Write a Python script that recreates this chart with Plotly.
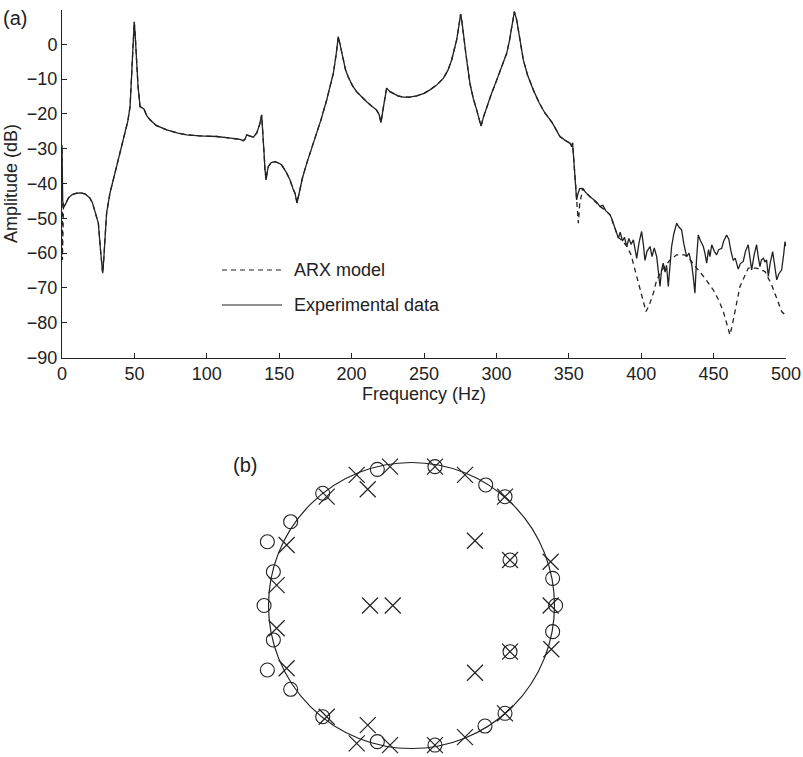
import plotly.graph_objects as go

W, H = 803, 757

# ---------------- (a) frequency response data ----------------
exp_freq = [0, 0.5, 1.2, 2.1, 4.4, 7, 10.1, 13, 15.9, 19.3, 21, 22.8, 25.1, 26.7, 27.6, 28.1, 28.8, 29.7, 30.8, 33.1,
            35.4, 38, 40.5, 43.5, 45.5, 47, 47.8, 48.4, 49.3, 49.9, 50.5, 51.2, 51.6, 52.5, 53.9, 55.5, 56.6, 58.5, 60.8, 65,
            72.3, 80, 86.1, 95, 106.8, 115, 122.9, 125.2, 126.5, 127.5, 129.5, 132.1, 134.5, 136.5, 137.9, 138.6, 139.5, 140.2, 140.9, 141.6,
            142.5, 144.5, 147.1, 150, 151.7, 154.5, 157.5, 159.5, 160.9, 162.3, 163.5, 166, 169, 172, 175.9, 179, 182.8, 185, 187.4, 189.3,
            190.8, 192, 194.1, 195.8, 197.6, 200.5, 203.4, 207, 210.4, 214, 217.3, 219, 220.3, 222, 224.2, 226.5, 228.8, 232,
            235.7, 240, 245, 250, 254.1, 258.5, 263.3, 266.5, 269.1, 271, 272.5, 274, 275.3, 276.2, 277.1, 279, 281.7, 284,
            286.4, 288, 289.4, 291, 293.3, 296.5, 300.2, 303.5, 307.1, 309, 310.6, 312.4, 314, 316, 318.6, 321.5, 325.5, 329.5,
            333.6, 338.5, 343.9, 347.5, 350.8, 352, 352.6, 353.4, 354.3, 355.4, 356.3, 357.5, 359.6, 361.5, 364.6,
            367, 369, 371.5, 373.5, 375.5, 378.5, 380, 381.5, 384.2, 385.5, 387, 388.5, 390, 391.5, 393, 394.6, 395.8, 396.9,
            398.5, 400.3, 401.5, 402.6, 404, 406.1, 407.5, 409, 410.7, 411.5, 413, 414, 415.2, 416.5, 417.5, 418.7, 420, 421,
            422.5, 424.5, 426, 427.9, 429.5, 431.4, 433, 434.9, 436, 437.1, 438.2, 439.4, 441, 442.9, 444, 445.2, 446.5, 447.5,
            448.7, 450.5, 452.1, 453.5, 455.6, 457, 459, 460.5, 462, 463.6, 465, 467, 468.5, 470.5, 472, 473.9, 475, 476.3,
            478, 479.7, 480.8, 482, 483, 484.3, 485.5, 486.6, 487.8, 489, 490.8, 492, 493.6, 495, 497, 498.5, 499.3, 500]
exp_db = [-29, -45, -46.5, -46.2, -44.2, -43.2, -42.8, -42.7, -43, -44.2, -45.5, -48.1, -51.4, -59.6, -64, -65.8, -62, -56.2, -48.5, -42.8,
          -39, -34.5, -30, -25.6, -22, -17.9, -12, -4, 2, 6.5, 3, -2, -4.5, -12, -17.9, -18.4, -18.6, -20.5, -21.7, -23.3,
          -24.6, -25.5, -26, -26.3, -26.5, -26.9, -27.3, -27.7, -27.2, -26.0, -26.3, -26.7, -25.5, -23, -20.3, -24, -31, -36, -39, -37,
          -35.1, -34, -33.7, -34.2, -34.7, -36.5, -39, -41.5, -42.8, -45.6, -43.5, -38.5, -34.2, -30.5, -25.6, -21.5, -16, -12.5, -8.3, -3,
          2.2, 0, -4.5, -7.3, -9.3, -11.8, -13.6, -15.2, -16.5, -17.8, -18.9, -20.2, -22.5, -18, -12.6, -13.6, -14.1, -14.8,
          -15.2, -15.2, -14.8, -14.1, -13.1, -11.8, -9.8, -7.5, -4.5, -1.5, 1.2, 5, 8.7, 6.5, 3.2, -3, -11.2, -15.5,
          -18.9, -21.5, -23.5, -21, -17.9, -14.3, -10.3, -6.5, -2.6, 1, 5.1, 9.4, 7, 1.5, -4.5, -8.8, -13.1, -16.8,
          -19.8, -22.5, -26.5, -27.6, -28.4, -29.4, -28.3, -33, -38.5, -44.7, -43, -41.5, -41.4, -42.5, -43.8,
          -44.5, -45.2, -46.6, -46.3, -47.8, -49, -50.5, -52.5, -55.7, -54, -56.5, -55.5, -58.1, -55.8, -57.5, -56.2, -58.5, -61.5,
          -57, -53.8, -57.5, -62.1, -59.5, -58.1, -61, -58.5, -61, -64, -69.6, -65, -62.9, -65.5, -63.5, -69.6, -63, -58.1,
          -54.5, -51.4, -52.5, -53.3, -57.5, -61, -60, -63.4, -67, -71.5, -62, -54.8, -56.5, -58.1, -60, -62.9, -59, -61,
          -57.6, -59.5, -60.5, -59, -58.6, -56.5, -54.8, -56, -59.5, -62.1, -61.5, -64.6, -63, -62.4, -59.5, -57.6, -61, -64.8,
          -60.5, -57.6, -61, -63.9, -62, -61.5, -62.5, -62, -66.7, -63, -59.6, -63, -67.7, -66, -64.8, -60, -56.7, -58]

arx_freq = [0, 0.3, 1.0, 2.1, 4.4, 7, 10.1, 13, 15.9, 19.3, 21, 22.8, 25.1, 26.7, 27.6, 28.1, 28.8, 29.7, 30.8, 33.1,
            35.4, 38, 40.5, 43.5, 45.5, 47, 47.8, 48.4, 49.3, 49.9, 50.5, 51.2, 51.6, 52.5, 53.9, 55.5, 56.6, 58.5, 60.8, 65,
            72.3, 80, 86.1, 95, 106.8, 115, 122.9, 125.2, 126.5, 127.5, 129.5, 132.1, 134.5, 136.5, 137.9, 138.6, 139.5, 140.2, 140.9, 141.6,
            142.5, 144.5, 147.1, 150, 151.7, 154.5, 157.5, 159.5, 160.9, 162.3, 163.5, 166, 169, 172, 175.9, 179, 182.8, 185, 187.4, 189.3,
            190.8, 192, 194.1, 195.8, 197.6, 200.5, 203.4, 207, 210.4, 214, 217.3, 219, 220.3, 222, 224.2, 226.5, 228.8, 232,
            235.7, 240, 245, 250, 254.1, 258.5, 263.3, 266.5, 269.1, 271, 272.5, 274, 275.3, 276.2, 277.1, 279, 281.7, 284,
            286.4, 288, 289.4, 291, 293.3, 296.5, 300.2, 303.5, 307.1, 309, 310.6, 312.4, 314, 316, 318.6, 321.5, 325.5, 329.5,
            333.6, 338.5, 343.9, 347.5, 350.8, 352, 352.6, 353.4, 354.3, 355.4, 356.6, 357.5, 359.6, 361.5, 364.6,
            367, 371.5, 375.5, 378.5, 381.5, 384.2, 387, 390, 393, 395.7, 399.1, 401.5, 403.3, 405.5, 408.4, 410.7, 415, 419.9,
            424.5, 430, 434, 438.3, 444, 449.8, 453.5, 456.7, 459.5, 461.3, 463, 464.8, 468.2, 474, 479.7, 485.5, 490.1,
            493.6, 497, 500]
arx_db = [-30, -62, -47, -46.2, -44.2, -43.2, -42.8, -42.7, -43, -44.2, -45.5, -48.1, -51.4, -59.6, -64, -65.8, -62, -56.2, -48.5, -42.8,
          -39, -34.5, -30, -25.6, -22, -17.9, -12, -4, 2, 6.5, 3, -2, -4.5, -12, -17.9, -18.4, -18.6, -20.5, -21.7, -23.3,
          -24.6, -25.5, -26, -26.3, -26.5, -26.9, -27.3, -27.7, -27.2, -26.0, -26.3, -26.7, -25.5, -23, -20.3, -24, -31, -36, -39, -37,
          -35.1, -34, -33.7, -34.2, -34.7, -36.5, -39, -41.5, -42.8, -45.6, -43.5, -38.5, -34.2, -30.5, -25.6, -21.5, -16, -12.5, -8.3, -3,
          2.2, 0, -4.5, -7.3, -9.3, -11.8, -13.6, -15.2, -16.5, -17.8, -18.9, -20.2, -22.5, -18, -12.6, -13.6, -14.1, -14.8,
          -15.2, -15.2, -14.8, -14.1, -13.1, -11.8, -9.8, -7.5, -4.5, -1.5, 1.2, 5, 8.7, 6.5, 3.2, -3, -11.2, -15.5,
          -18.9, -21.5, -23.5, -21, -17.9, -14.3, -10.3, -6.5, -2.6, 1, 5.1, 9.4, 7, 1.5, -4.5, -8.8, -13.1, -16.8,
          -19.8, -22.5, -26.5, -27.6, -28.4, -29.4, -28.3, -33, -38.5, -45, -51.4, -46, -41.5, -42.5, -43.8,
          -44.5, -46.6, -47.8, -49, -52.5, -55.5, -56.5, -58, -60.5, -64.8, -69.6, -74, -76.8, -75, -71.5, -67.7, -64.5, -62,
          -60.5, -60.5, -62, -64.3, -67.2, -70.6, -73.5, -76.8, -81, -83.5, -80.5, -76.8, -69.6, -64.3, -64.3, -65.3, -69.1,
          -73, -76.8, -78]

x_ticks = [0, 50, 100, 150, 200, 250, 300, 350, 400, 450, 500]
y_ticks = [-90, -80, -70, -60, -50, -40, -30, -20, -10, 0]

# ---------------- (b) pole-zero map data ----------------
pole_re = [-0.383, -0.306, -0.150, 0.164, -0.593, -0.873, -0.943, -0.290, -0.131, 0.374, 0.654, 0.444, 0.689, 0.973, 0.973,
           -0.943, -0.873, -0.593, -0.306, -0.383, -0.150, 0.164, 0.374, 0.654, 0.444, 0.689, 0.978]
pole_im = [0.913, 0.813, 0.971, 0.971, 0.761, 0.423, 0.143, 0.0, 0.0, 0.913, 0.761, 0.453, 0.318, 0.306, 0.0,
           -0.159, -0.439, -0.778, -0.836, -0.964, -0.976, -0.976, -0.920, -0.754, -0.470, -0.323, -0.306]
zero_re = [-0.239, 0.164, -0.621, -0.845, -1.008, -0.966, -1.031, 0.519, 0.654, 0.689, 0.987, 1.008,
           -0.966, -1.008, -0.845, -0.621, -0.239, 0.164, 0.514, 0.654, 0.689, 0.987]
zero_im = [0.952, 0.971, 0.785, 0.586, 0.446, 0.236, 0.0, 0.843, 0.761, 0.318, 0.190, 0.0,
           -0.241, -0.451, -0.586, -0.778, -0.952, -0.976, -0.843, -0.754, -0.323, -0.183]


def px(x):
    return x / W


def py(y):
    return 1 - y / H


INK = "#222222"
FONT = "Liberation Sans, Arial, sans-serif"

fig = go.Figure()
fig.add_trace(go.Scatter(x=exp_freq, y=exp_db, mode="lines", name="Experimental data",
                         line=dict(color=INK, width=1.3), xaxis="x", yaxis="y"))
fig.add_trace(go.Scatter(x=arx_freq, y=arx_db, mode="lines", name="ARX model",
                         line=dict(color=INK, width=1.3, dash="5px,4px"), xaxis="x", yaxis="y"))

fig.add_trace(go.Scatter(x=zero_re, y=zero_im, mode="markers", name="zeros", cliponaxis=False,
                         marker=dict(symbol="circle-open", size=14, color=INK, line=dict(width=1.1, color=INK)),
                         xaxis="x2", yaxis="y2"))
fig.add_trace(go.Scatter(x=pole_re, y=pole_im, mode="markers", name="poles", cliponaxis=False,
                         marker=dict(symbol="x-thin-open", size=16, color=INK, line=dict(width=1.2, color=INK)),
                         xaxis="x2", yaxis="y2"))

R = 143.0
cx, cy = 411.5, 605.5
half = 150.0

fig.update_layout(
    width=W, height=H,
    margin=dict(l=0, r=0, t=0, b=0),
    paper_bgcolor="white", plot_bgcolor="white",
    showlegend=False,
    font=dict(family=FONT, color=INK, size=18),
    xaxis=dict(domain=[px(62), px(786)], range=[0, 500], tickvals=x_ticks,
               ticks="inside", ticklen=5, tickcolor=INK, tickwidth=1,
               showline=True, linecolor=INK, linewidth=1, showgrid=False, zeroline=False,
               tickfont=dict(size=18, family=FONT, color=INK),
               title=dict(text="Frequency (Hz)", font=dict(size=18, family=FONT, color=INK), standoff=4),
               anchor="y", automargin=False),
    yaxis=dict(domain=[py(357.5), py(9.5)], range=[-90, 10], tickvals=y_ticks,
               ticks="inside", ticklen=5, tickcolor=INK, tickwidth=1,
               showline=True, linecolor=INK, linewidth=1, showgrid=False, zeroline=False,
               tickfont=dict(size=18, family=FONT, color=INK),
               title=dict(text="Amplitude (dB)", font=dict(size=18, family=FONT, color=INK), standoff=4),
               anchor="x", automargin=False),
    xaxis2=dict(domain=[px(cx - half), px(cx + half)], range=[-half / R, half / R],
                visible=False, anchor="y2"),
    yaxis2=dict(domain=[py(cy + half), py(cy - half)], range=[-half / R, half / R],
                visible=False, anchor="x2"),
)

# unit circle on the pole-zero axes
fig.add_shape(type="circle", xref="x2", yref="y2", x0=-1, y0=-1, x1=1, y1=1,
              line=dict(color=INK, width=1.2), layer="below")

# legend drawn manually (long line samples as in the original)
fig.add_shape(type="line", xref="paper", yref="paper", x0=px(222), x1=px(282), y0=py(270), y1=py(270),
              line=dict(color=INK, width=1.2, dash="5px,4px"))
fig.add_shape(type="line", xref="paper", yref="paper", x0=px(222), x1=px(282), y0=py(305), y1=py(305),
              line=dict(color=INK, width=1.2))
fig.add_annotation(x=px(292), y=py(270), xref="paper", yref="paper", text="ARX model", showarrow=False,
                   xanchor="left", yanchor="middle", font=dict(size=18, family=FONT, color=INK))
fig.add_annotation(x=px(292), y=py(305), xref="paper", yref="paper", text="Experimental data", showarrow=False,
                   xanchor="left", yanchor="middle", font=dict(size=18, family=FONT, color=INK))

# panel labels
fig.add_annotation(x=px(1), y=py(18), xref="paper", yref="paper", text="(a)", showarrow=False,
                   xanchor="left", yanchor="middle", font=dict(size=20, family=FONT, color=INK))
fig.add_annotation(x=px(231), y=py(465), xref="paper", yref="paper", text="(b)", showarrow=False,
                   xanchor="left", yanchor="middle", font=dict(size=20, family=FONT, color=INK))

fig.write_html("out.html")
